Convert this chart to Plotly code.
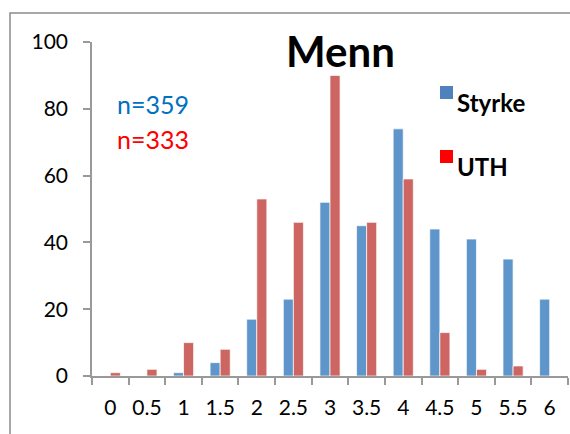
import plotly.graph_objects as go

categories = ["0", "0.5", "1", "1.5", "2", "2.5", "3", "3.5", "4", "4.5", "5", "5.5", "6"]
styrke = [0, 0, 1, 4, 17, 23, 52, 45, 74, 44, 41, 35, 23]
uth = [1, 2, 10, 8, 53, 46, 90, 46, 59, 13, 2, 3, 0]
y_ticks = [0, 20, 40, 60, 80, 100]

W, H = 570, 434
L, R, T, B = 92, 2, 42, 58
FONT = "Lato"

fig = go.Figure()
fig.add_trace(go.Bar(x=categories, y=styrke, name="Styrke",
                     marker=dict(color="#5E95CA", line=dict(color="rgba(255,255,255,0.7)", width=1))))
fig.add_trace(go.Bar(x=categories, y=uth, name="UTH",
                     marker=dict(color="#CD6662", line=dict(color="rgba(255,255,255,0.7)", width=1))))

def px(x):
    return (x - L) / (W - L - R)

def py(y):
    return 1 - (y - T) / (H - T - B)

fig.update_layout(
    width=W, height=H,
    margin=dict(l=L, r=R, t=T, b=B),
    paper_bgcolor="white", plot_bgcolor="white",
    barmode="group", bargap=0.45, bargroupgap=0,
    showlegend=False,
    font=dict(family=FONT, color="black", size=21),
    xaxis=dict(type="category", showgrid=False, showline=True, linecolor="#999999", linewidth=1.5,
               ticks="outside", tickson="boundaries", ticklen=7, tickwidth=1.5, tickcolor="#999999",
               tickfont=dict(size=21, family=FONT), ticklabelstandoff=12, tickangle=0),
    yaxis=dict(range=[0, 100], tickvals=y_ticks, showgrid=False, showline=True, linecolor="#999999",
               linewidth=1.5, ticks="outside", ticklen=7, tickwidth=1.5, tickcolor="#999999",
               tickfont=dict(size=21, family=FONT), ticklabelstandoff=11, zeroline=False),
)

annotations = [
    dict(text="<b>Menn</b>", x=px(340), y=py(51), font=dict(size=42, family=FONT, color="black")),
    dict(text="n=359", x=px(115), y=py(104), xanchor="left", font=dict(size=25, family=FONT, color="#0070C0")),
    dict(text="n=333", x=px(115), y=py(139), xanchor="left", font=dict(size=25, family=FONT, color="#FF0000")),
    dict(text="<b>Styrke</b>", x=px(455), y=py(102), xanchor="left", font=dict(size=24, family=FONT, color="black")),
    dict(text="<b>UTH</b>", x=px(455), y=py(166), xanchor="left", font=dict(size=24, family=FONT, color="black")),
]
for a in annotations:
    a.update(xref="paper", yref="paper", showarrow=False)
    if "xanchor" not in a:
        a["xanchor"] = "center"
    a["yanchor"] = "middle"
fig.update_layout(annotations=annotations)

shapes = [
    dict(type="rect", xref="paper", yref="paper", x0=px(10), x1=px(580), y0=py(13), y1=py(445),
         line=dict(color="#8C8C8C", width=1.5), fillcolor="rgba(0,0,0,0)", layer="below"),
    dict(type="rect", xref="paper", yref="paper", x0=px(440), x1=px(453), y0=py(86), y1=py(99),
         line=dict(width=0), fillcolor="#4F81BD"),
    dict(type="rect", xref="paper", yref="paper", x0=px(440), x1=px(453), y0=py(150), y1=py(163),
         line=dict(width=0), fillcolor="#FF0000"),
]
fig.update_layout(shapes=shapes)

fig.write_html("out.html")
